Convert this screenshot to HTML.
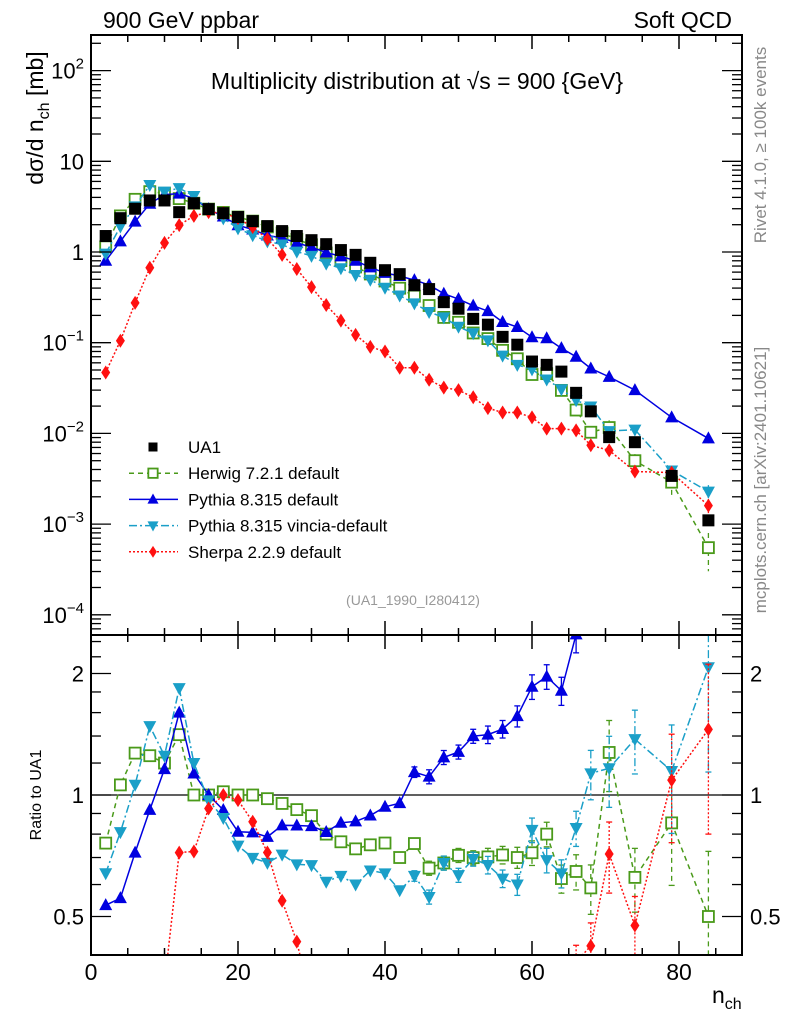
<!DOCTYPE html>
<html><head><meta charset="utf-8"><style>
html,body{margin:0;padding:0;background:#fff;width:786px;height:1024px;overflow:hidden}
svg{display:block;font-family:"Liberation Sans",sans-serif}
</style></head><body>
<svg id="c" width="786" height="1024" xmlns="http://www.w3.org/2000/svg"></svg>
<script>
const nch=[2,4,6,8,10,12,14,16,18,20,22,24,26,28,30,32,34,36,38,40,42,44,46,48,50,52,54,56,58,60,62,64,66,68,70.5,74,79,84];
const ua1=[1.5,2.36,3.0,3.7,3.7,2.75,3.45,2.97,2.68,2.43,2.19,1.93,1.70,1.50,1.35,1.22,1.05,0.93,0.76,0.63,0.57,0.43,0.39,0.28,0.237,0.183,0.158,0.116,0.095,0.062,0.057,0.048,0.028,0.0175,0.0091,0.0080,0.0034,0.0011];
const herwig=[1.14,2.50,3.81,4.63,4.44,3.88,3.45,2.97,2.73,2.43,2.19,1.89,1.62,1.38,1.20,0.976,0.804,0.684,0.572,0.479,0.399,0.326,0.257,0.190,0.168,0.128,0.111,0.0824,0.0665,0.0446,0.0456,0.0298,0.0181,0.0103,0.0116,0.0050,0.0029,0.00055];
const pythia=[0.80,1.31,2.16,3.40,4.29,4.40,3.90,2.97,2.46,1.97,1.77,1.52,1.43,1.26,1.13,0.988,0.896,0.80,0.676,0.589,0.544,0.49,0.433,0.347,0.303,0.256,0.223,0.169,0.149,0.115,0.112,0.087,0.070,0.052,0.042,0.030,0.015,0.0088];
const vincia=[0.96,1.91,3.18,5.48,4.63,5.06,4.14,2.88,2.35,1.82,1.53,1.31,1.21,1.01,0.905,0.744,0.662,0.558,0.494,0.403,0.331,0.271,0.218,0.190,0.150,0.127,0.106,0.072,0.057,0.0508,0.0393,0.0307,0.0232,0.0198,0.0106,0.0110,0.0039,0.00228];
const sherpa=[0.047,0.105,0.275,0.67,1.26,1.98,2.5,2.75,2.68,2.36,1.88,1.39,0.93,0.65,0.41,0.26,0.175,0.122,0.090,0.08,0.053,0.053,0.039,0.032,0.030,0.025,0.019,0.017,0.017,0.015,0.0113,0.0113,0.0108,0.0074,0.0065,0.0038,0.0037,0.0016];
const relErr=[0.01,0.01,0.01,0.01,0.01,0.01,0.01,0.01,0.01,0.01,0.01,0.01,0.01,0.01,0.01,0.01,0.01,0.015,0.015,0.02,0.02,0.03,0.04,0.04,0.04,0.04,0.05,0.05,0.06,0.07,0.07,0.08,0.1,0.14,0.2,0.18,0.3,0.45];
const xTicks=[0,20,40,60,80];
const yTicks=[2,1,0,-1,-2,-3,-4];
const rTicks=[0.5,1,2];

const NS="http://www.w3.org/2000/svg";
const svg=document.getElementById('c');
const L=91,R=742,T=35,MID=635,B=955;
const xs=n=>L+(n)*7.35;
const ys=v=>252-90.7*Math.log10(v);
const rs=r=>795-121.5*Math.log2(r);
function el(tag,attrs,parent){const e=document.createElementNS(NS,tag);for(const k in attrs)e.setAttribute(k,attrs[k]);(parent||svg).appendChild(e);return e;}
function txt(s,x,y,size,attrs,parent){const t=el('text',Object.assign({x:x,y:y,'font-size':size},attrs||{}),parent);t.textContent=s;return t;}

let t;
t=txt('900 GeV ppbar',103,28,23);
t=txt('Soft QCD',732,28,23,{'text-anchor':'end'});
t=txt('Multiplicity distribution at √s = 900 {GeV}',417,89,23,{'text-anchor':'middle'});
t=el('text',{x:0,y:0,'font-size':23,transform:'translate(43,118) rotate(-90)','text-anchor':'middle'});t.innerHTML='dσ/d n<tspan font-size="16" dy="6">ch</tspan><tspan dy="-6"> [mb]</tspan>';

t=el('text',{x:0,y:0,'font-size':16,transform:'translate(41,795) rotate(-90)','text-anchor':'middle'});t.textContent='Ratio to UA1';

t=el('text',{x:0,y:0,'font-size':17,fill:'#888','transform':'translate(766,145) rotate(-90)','text-anchor':'middle'});t.textContent='Rivet 4.1.0, ≥ 100k events';

t=el('text',{x:0,y:0,'font-size':17,fill:'#888','transform':'translate(766,480) rotate(-90)','text-anchor':'middle'});t.textContent='mcplots.cern.ch [arXiv:2401.10621]';

t=txt('(UA1_1990_I280412)',413,605,14,{'text-anchor':'middle',fill:'#999'});
t=el('text',{x:712,y:1003,'font-size':23});t.innerHTML='n<tspan font-size="16" dy="6">ch</tspan>';


function marker(type,x,y,col,g,s){s=s||1;
 if(type==='sq')return el('rect',{x:x-6*s,y:y-6*s,width:12*s,height:12*s,fill:'#000'},g);
 if(type==='osq')return el('rect',{x:x-5.5*s,y:y-5.5*s,width:11*s,height:11*s,fill:'#fff',stroke:col,'stroke-width':1.8},g);
 if(type==='up')return el('polygon',{points:`${x},${y-7*s} ${x-6.5*s},${y+5*s} ${x+6.5*s},${y+5*s}`,fill:col},g);
 if(type==='dn')return el('polygon',{points:`${x},${y+7*s} ${x-6.5*s},${y-5*s} ${x+6.5*s},${y-5*s}`,fill:col},g);
 if(type==='dia')return el('polygon',{points:`${x},${y-7*s} ${x-4.5*s},${y} ${x},${y+7*s} ${x+4.5*s},${y}`,fill:col},g);}

const series=[
 {name:'herwig',vals:herwig,col:'#4a9a1a',dash:'5,4',m:'osq',mainErr:1},
 {name:'pythia',vals:pythia,col:'#0000e0',dash:'',m:'up',mainErr:0.25},
 {name:'vincia',vals:vincia,col:'#1a9fc8',dash:'8,3,2,3',m:'dn',mainErr:0.4},
 {name:'sherpa',vals:sherpa,col:'#ff1010',dash:'2,2',m:'dia',mainErr:0.4}];

// main panel (nested svg clips content)
const sm=el('svg',{x:L,y:T,width:R-L,height:MID-T,viewBox:`${L} ${T} ${R-L} ${MID-T}`,overflow:'hidden'});

series.forEach(s=>{
 const g=el('g',{},sm);
 
 el('polyline',{points:s.vals.map((v,i)=>xs(nch[i])+','+ys(v)).join(' '),fill:'none',stroke:s.col,'stroke-width':1.5,'stroke-dasharray':s.dash},g);
 s.vals.forEach((v,i)=>{const e=relErr[i]*v*s.mainErr;if(relErr[i]>0.1){el('line',{x1:xs(nch[i]),x2:xs(nch[i]),y1:ys(v+e),y2:ys(Math.max(v-e,1e-6)),stroke:s.col,'stroke-width':1.3,'stroke-dasharray':s.dash},g);}
  const mk=marker(s.m,xs(nch[i]),ys(v),s.col,g);
  
  });
});
const gd=el('g',{},sm);

ua1.forEach((v,i)=>{const mk=marker('sq',xs(nch[i]),ys(v),'#000',gd);
 
 });

// ratio panel
const sr=el('svg',{x:L,y:MID,width:R-L,height:B-MID,viewBox:`${L} ${MID} ${R-L} ${B-MID}`,overflow:'hidden'});

let ln=el('line',{x1:L,x2:R,y1:rs(1),y2:rs(1),stroke:'#000','stroke-width':1.3},sr);

series.forEach(s=>{
 const g=el('g',{},sr);
 
 const rat=s.vals.map((v,i)=>v/ua1[i]);
 el('polyline',{points:rat.map((r,i)=>xs(nch[i])+','+rs(r)).join(' '),fill:'none',stroke:s.col,'stroke-width':1.5,'stroke-dasharray':s.dash},g);
 rat.forEach((r,i)=>{const e=relErr[i]*r;const x=xs(nch[i]);
  if(relErr[i]>0.02){const y1=rs(r+e),y2=rs(Math.max(r-e,0.01));
   el('line',{x1:x,x2:x,y1:y1,y2:y2,stroke:s.col,'stroke-width':1.3,'stroke-dasharray':s.dash},g);
   el('line',{x1:x-3,x2:x+3,y1:y1,y2:y1,stroke:s.col,'stroke-width':1.3},g);
   el('line',{x1:x-3,x2:x+3,y1:y2,y2:y2,stroke:s.col,'stroke-width':1.3},g);}
  const mk=marker(s.m,x,rs(r),s.col,g);
  
  });
});

// frames and ticks
let f=el('rect',{x:L,y:T,width:R-L,height:MID-T,fill:'none',stroke:'#000','stroke-width':2});

f=el('rect',{x:L,y:MID,width:R-L,height:B-MID,fill:'none',stroke:'#000','stroke-width':2});

for(let n=0;n<=88;n+=5){const maj=n%20===0;const len=maj?14:7;
 for(const[yb,dir] of [[T,1],[MID,-1],[MID,1],[B,-1]]){el('line',{x1:xs(n),x2:xs(n),y1:yb,y2:yb+dir*len,stroke:'#000','stroke-width':1.5});}}
xTicks.forEach(v=>{const tl=txt(String(v),xs(v),980,23,{'text-anchor':'middle'});});
for(let d=-5;d<=2;d++){for(let m=1;m<10;m++){const v=m*Math.pow(10,d);const y=ys(v);if(y<T||y>MID)continue;const len=m===1?20:10;
 el('line',{x1:L,x2:L+len,y1:y,y2:y,stroke:'#000','stroke-width':1.3});el('line',{x1:R,x2:R-len,y1:y,y2:y,stroke:'#000','stroke-width':1.3});}}
yTicks.forEach(d=>{const y=ys(Math.pow(10,d));let tl=el('text',{x:84,y:y+8,'font-size':22,'text-anchor':'end'});
 if(d===1)tl.textContent='10';else if(d===0)tl.textContent='1';else tl.innerHTML='10<tspan font-size="15" dy="-10">'+(d<0?'−'+(-d):d)+'</tspan>';
 });
for(let r=0.4;r<=2.5;r+=(r<0.99?0.1:0.2)){const y=rs(r);if(y<MID||y>B)continue;const maj=[0.5,1,2].some(q=>Math.abs(q-r)<1e-6);const len=maj?20:10;
 el('line',{x1:L,x2:L+len,y1:y,y2:y,stroke:'#000','stroke-width':1.3});el('line',{x1:R,x2:R-len,y1:y,y2:y,stroke:'#000','stroke-width':1.3});}
rTicks.forEach(r=>{const y=rs(r);let tl=txt(String(r),84,y+8,22,{'text-anchor':'end'});
 tl=txt(String(r),750,y+8,22);});

const leg=[['UA1','sq','#000',''],['Herwig 7.2.1 default','osq','#4a9a1a','5,4'],['Pythia 8.315 default','up','#0000e0',''],['Pythia 8.315 vincia-default','dn','#1a9fc8','8,3,2,3'],['Sherpa 2.2.9 default','dia','#ff1010','2,2']];
const lg=el('g',{});
leg.forEach((e,i)=>{const y=447+i*26.2;const g=el('g',{},lg);
 
 if(i>0)el('line',{x1:129,x2:178,y1:y,y2:y,stroke:e[2],'stroke-width':1.5,'stroke-dasharray':e[3]},g);
 marker(e[1],153,y,e[2],g,i===0?0.75:0.85);
 txt(e[0],188,y+6,17,{},g);});
</script>
</body></html>
